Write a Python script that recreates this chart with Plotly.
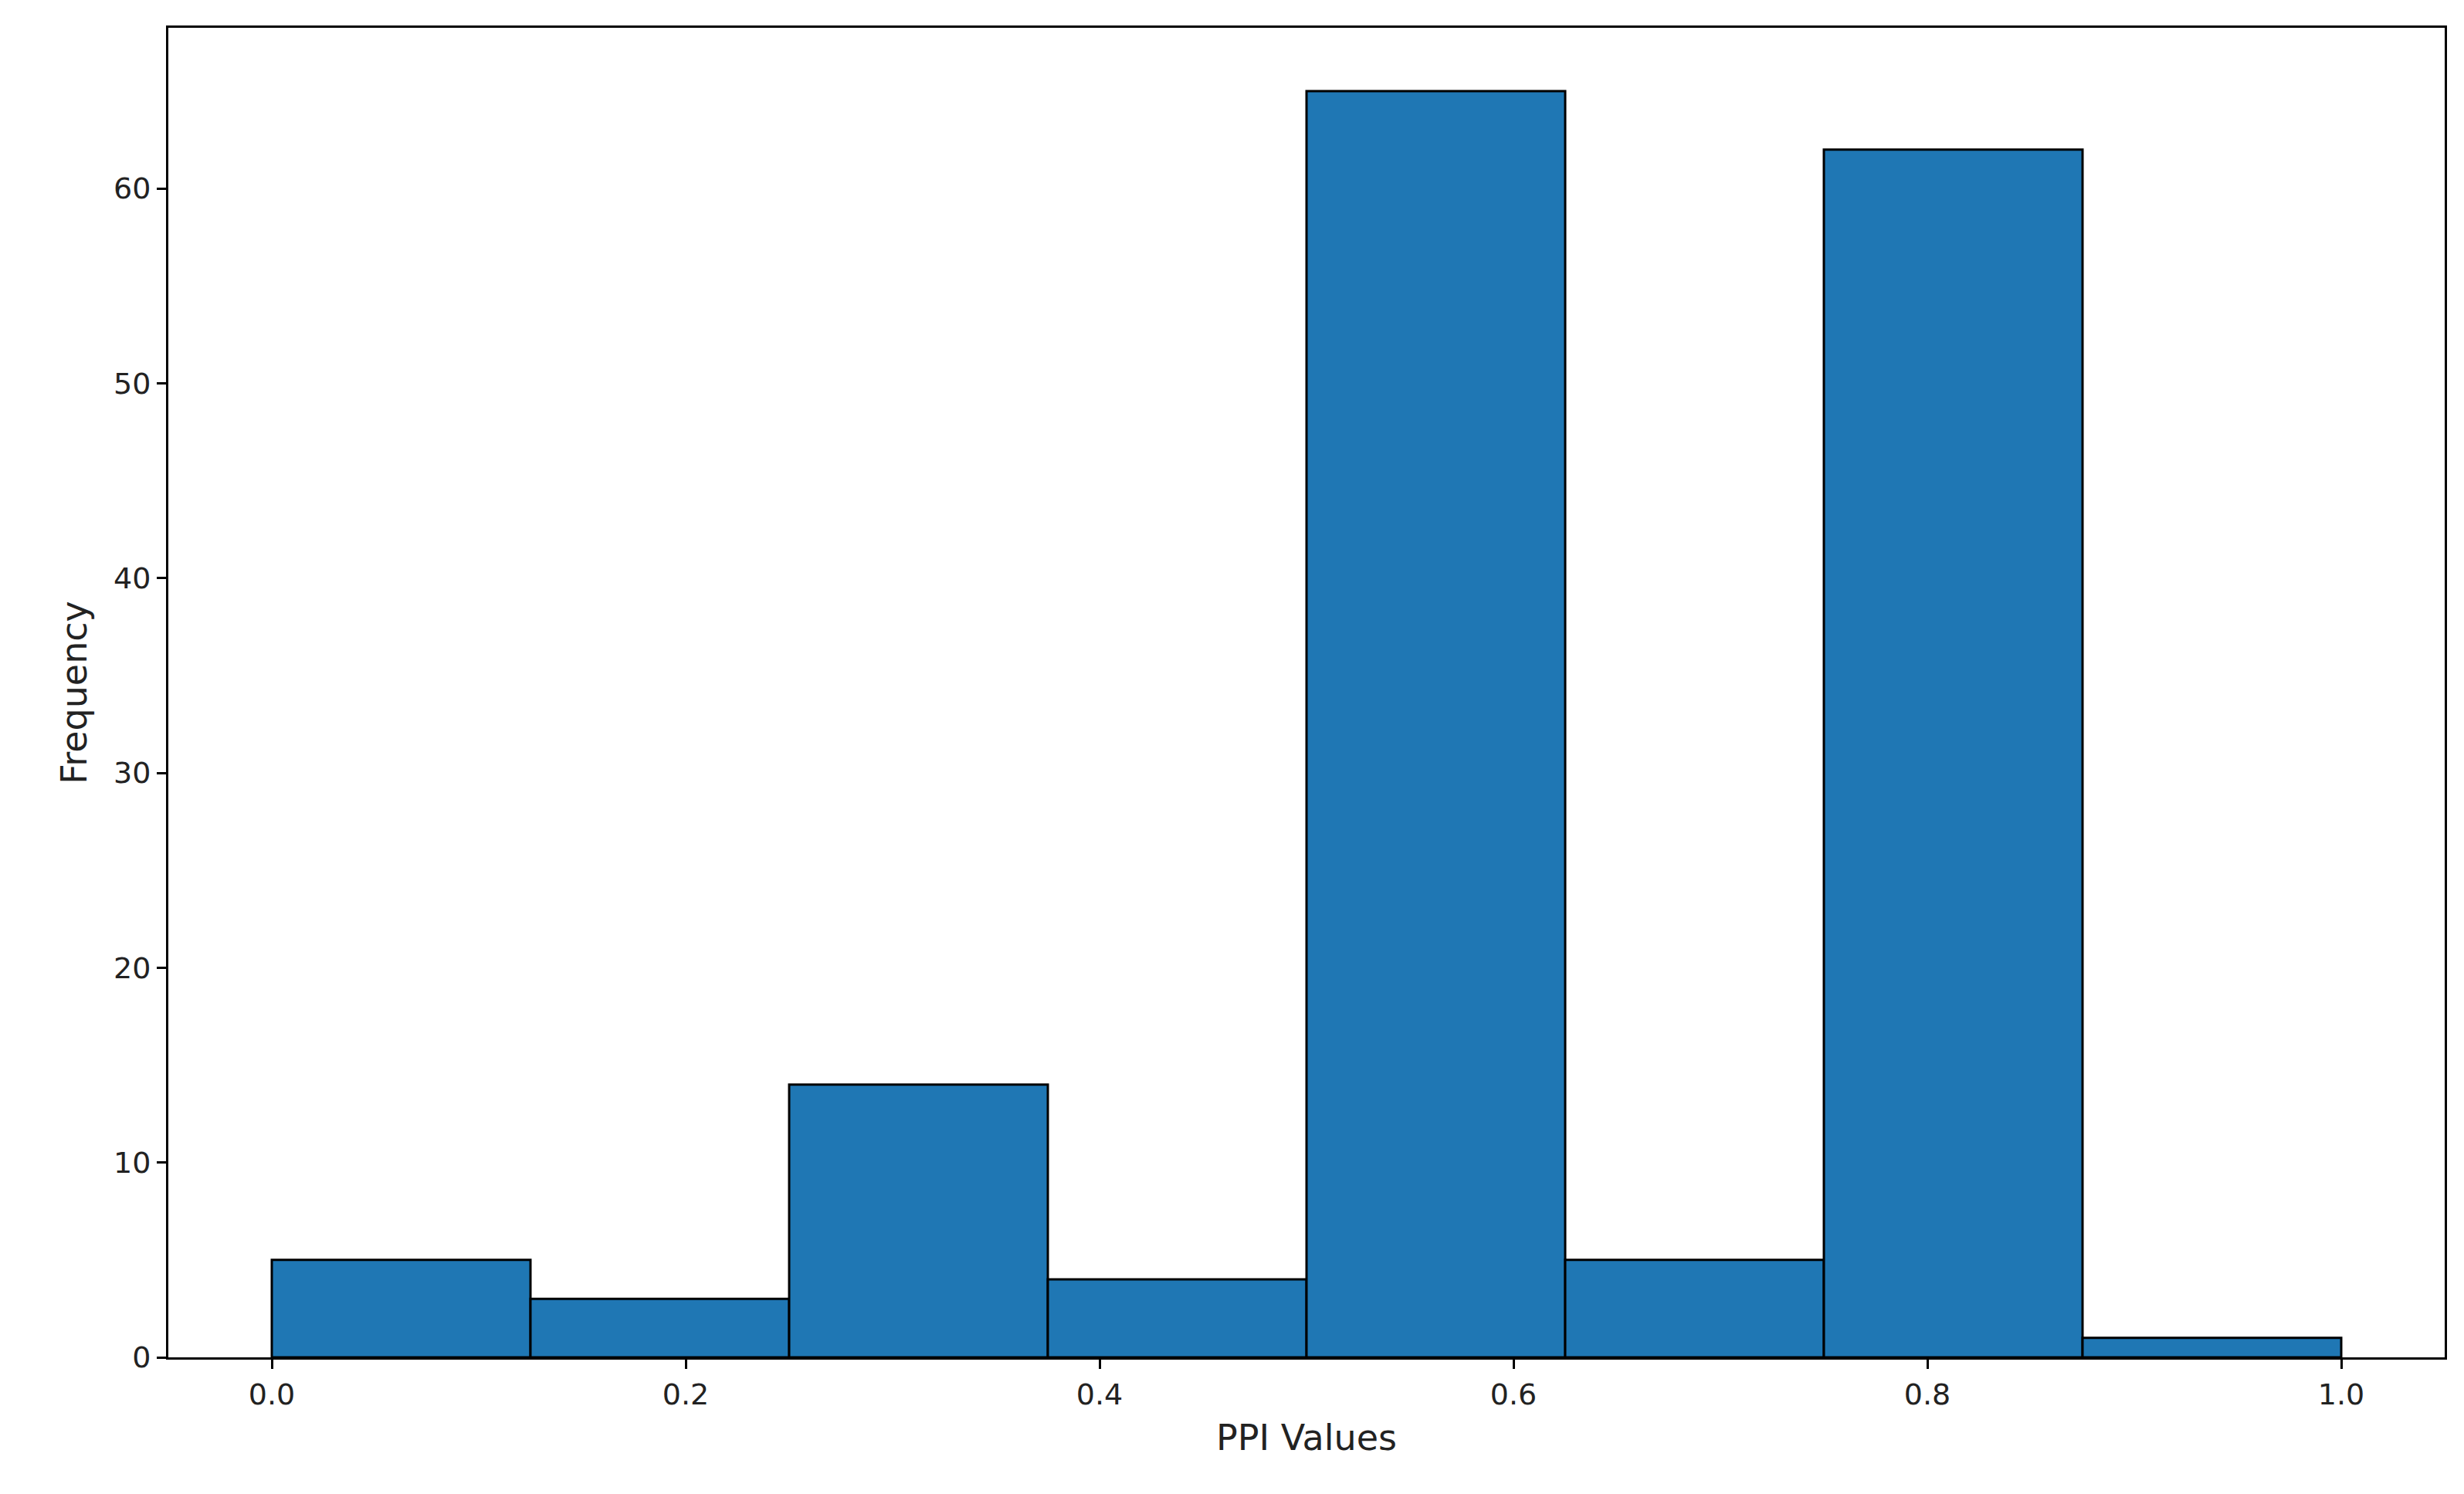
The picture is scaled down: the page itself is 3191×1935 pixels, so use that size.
import plotly.graph_objects as go

bin_edges = [0.0, 0.125, 0.25, 0.375, 0.5, 0.625, 0.75, 0.875, 1.0]
counts = [5, 3, 14, 4, 65, 5, 62, 1]
centers = [(a + b) / 2 for a, b in zip(bin_edges[:-1], bin_edges[1:])]
widths = [b - a for a, b in zip(bin_edges[:-1], bin_edges[1:])]

fig = go.Figure(go.Bar(x=centers, y=counts, width=widths,
                       marker=dict(color="#1f77b4", line=dict(color="black", width=3))))
fig.update_layout(
    width=3191, height=1935, plot_bgcolor="white", paper_bgcolor="white",
    margin=dict(l=210, r=33, t=28, b=185), showlegend=False,
    font=dict(family="DejaVu Sans", size=38, color="#222"),
)
axis = dict(showline=True, linecolor="black", linewidth=3, mirror=True, showgrid=False,
            ticks="outside", ticklen=12, tickwidth=3, tickcolor="black", zeroline=False)
fig.update_xaxes(range=[-0.05, 1.05], tickvals=[0, 0.2, 0.4, 0.6, 0.8, 1.0],
                 ticktext=["0.0", "0.2", "0.4", "0.6", "0.8", "1.0"],
                 title=dict(text="PPI Values", standoff=20), **axis)
fig.update_yaxes(range=[0, 68.25], tickvals=[0, 10, 20, 30, 40, 50, 60],
                 title=dict(text="Frequency", standoff=20), **axis)
fig.write_html("out.html")
